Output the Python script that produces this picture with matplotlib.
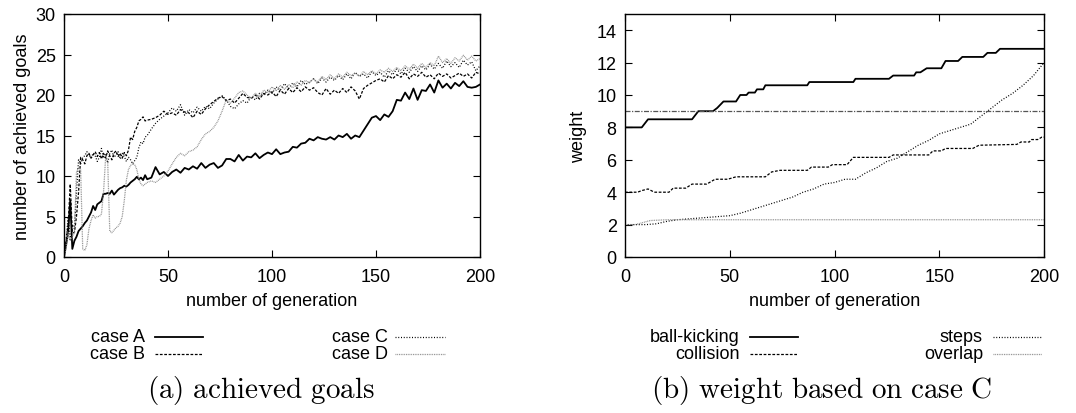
import numpy as np
import matplotlib.pyplot as plt
from matplotlib.lines import Line2D

plt.rcParams['font.family'] = ['Liberation Sans', 'DejaVu Sans']
plt.rcParams['mathtext.fontset'] = 'cm'

# (a) achieved goals -- generations 0..40 every 1, then every 2
gen = np.r_[0:41, 42:201:2]

case_a = [0, 1.5, 3, 7, 1, 2, 2.5, 3.2, 3.5, 3.8, 4.2, 4.5, 5, 5.5, 6.3, 5.8, 6.5, 6.7, 6.9, 7.8,
          7.8, 7.9, 7.8, 8.2, 7.7, 8, 8.3, 8.5, 8.6, 8.8, 8.7, 8.9, 9.2, 9.4, 9.6, 9.9, 9.6, 9.8, 9.5, 10.1,
          9.6,
          9.8, 11.1, 10.2, 10.5, 10.0, 10.5, 10.8, 10.4, 11.0, 10.8, 11.2, 10.9, 11.6, 11.0, 11.4, 11.6,
          11.0, 11.3, 12.1, 12.1, 11.8, 12.6, 11.9, 12.4, 12.3, 12.8, 12.2, 12.6, 12.9, 12.7, 13.3, 12.7,
          12.9, 13.0, 13.6, 13.5, 14.0, 14.1, 14.6, 14.4, 14.8, 14.6, 14.5, 14.8, 14.5, 15.0, 14.8, 15.2,
          14.6, 15.0, 14.8, 15.6, 16.4, 17.2, 17.4, 16.9, 17.6, 17.3, 18.0, 19.4, 19.3, 20.3, 19.5, 20.8,
          19.4, 20.6, 20.5, 21.3, 20.3, 21.8, 20.9, 21.4, 20.8, 21.5, 21.1, 21.7, 21.0, 20.9, 21.0, 21.3]

case_b = [0, 2, 4, 9, 3, 3, 5, 8, 12.3, 12, 11.5, 12.5, 12.8, 12.2, 12.6, 13, 12.4, 12.9, 12.1, 12.8,
          12.2, 13.1, 12.5, 12.0, 12.8, 13.1, 12.4, 12.8, 12.2, 12.9, 12.5, 13.2, 14.8, 14.5, 15.5, 16.0,
          16.8, 17.0, 17.3, 16.8, 16.9,
          17.0, 17.2, 17.5, 18.0, 17.6, 17.8, 17.5, 18.2, 17.9, 17.8, 17.2, 18.0, 17.6, 18.3, 18.8, 19.2,
          19.6, 19.8, 19.3, 19.5, 19.0, 19.6, 20.2, 19.7, 19.6, 20.0, 19.5, 20.2, 20.0, 20.4, 19.8, 20.6,
          20.1, 20.8, 20.3, 20.9, 20.4, 21.0, 20.6, 20.9, 20.3, 20.0, 20.8, 20.1, 20.6, 20.2, 20.8, 20.3,
          21.0, 20.5, 19.5, 20.8, 21.2, 21.5, 21.8, 22.0, 21.6, 22.4, 22.0, 22.5, 22.2, 22.8, 22.0, 22.6,
          22.3, 22.8, 22.2, 22.5, 22.0, 22.7, 22.3, 22.6, 22.1, 22.4, 22.7, 22.3, 22.6, 22.1, 22.8, 22.6]

case_c = [0, 2, 5, 2, 4, 3.5, 8, 12, 11.5, 12.3, 12.5, 13, 12.6, 12.2, 12.8, 12.5, 11.8, 12.3, 13.4,
          12.2, 12.7, 11.6, 12.8, 13.2, 12.3, 12.6, 13.0, 12.1, 12.8, 12.4, 11.8, 12.3, 12.0, 11.5, 11.9,
          12.3, 13.5, 14.2, 14.0, 14.8, 15.0,
          15.8, 16.5, 17.0, 17.4, 17.8, 18.4, 18.0, 18.8, 17.5, 18.2, 17.8, 18.5, 18.0, 18.6, 18.3, 19.0,
          19.5, 19.9, 19.4, 18.6, 18.3, 18.9, 19.3, 19.0, 19.8, 19.4, 20.2, 20.0, 20.6, 20.2, 21.0, 20.6,
          21.4, 20.8, 21.5, 21.0, 21.8, 21.3, 21.6, 22.0, 21.4, 22.1, 21.6, 22.2, 21.8, 22.4, 21.9, 22.6,
          22.0, 22.8, 22.3, 22.6, 22.1, 22.9, 22.4, 22.8, 22.2, 23.0, 22.5, 23.2, 22.6, 23.3, 22.8, 23.5,
          22.9, 23.6, 23.1, 23.8, 23.2, 23.9, 23.3, 24.2, 23.5, 24.0, 23.4, 24.3, 23.7, 24.1, 23.0, 23.6]

case_d = [0, 1, 3, 2, 2.5, 3, 10.5, 11, 10.8, 1.0, 0.8, 1.5, 3.5, 4.5, 5.2, 4.8, 5.0, 5.0, 5.3, 8,
          12.2, 11.8, 3.2, 3.0, 3.3, 3.6, 3.8, 4.2, 5.0, 7.0, 9.5, 10.8, 11.3, 11.5, 11.4, 10.8, 9.6, 9.0,
          8.8, 9.0, 9.2,
          9.4, 9.2, 9.6, 10.0, 10.6, 11.5, 12.3, 12.8, 12.5, 13.0, 13.2, 13.6, 14.5, 15.2, 15.5, 16.0,
          16.8, 18.0, 19.4, 19.0, 19.6, 20.3, 20.5, 20.0, 19.6, 20.2, 19.8, 20.6, 20.3, 21.0, 20.5, 21.2,
          20.7, 21.3, 20.9, 21.6, 21.2, 21.8, 21.5, 22.0, 21.6, 22.3, 21.9, 22.5, 22.0, 22.6, 22.2, 22.8,
          22.4, 22.7, 22.3, 22.9, 22.5, 23.0, 22.6, 23.1, 22.8, 23.3, 22.9, 23.4, 23.0, 23.6, 23.2, 23.8,
          23.3, 23.9, 23.4, 24.0, 23.6, 24.8, 24.0, 24.5, 23.9, 24.6, 24.2, 24.9, 24.3, 24.8, 24.2, 24.5]

# (b) weight based on case C -- breakpoints of each curve
bk_gen = [0, 8, 11, 32, 35, 42, 44, 47, 53, 55, 58, 59, 62, 63, 66, 67, 87, 88, 109, 110, 126, 128,
          138, 139, 141, 144, 151, 153, 159, 161, 171, 173, 177, 179, 200]
bk_val = [8.0, 8.0, 8.5, 8.5, 9.0, 9.0, 9.2, 9.6, 9.6, 10.0, 10.0, 10.15, 10.15, 10.35, 10.35, 10.6,
          10.6, 10.8, 10.8, 11.0, 11.0, 11.2, 11.2, 11.4, 11.4, 11.65, 11.65, 12.1, 12.1, 12.35, 12.35,
          12.6, 12.6, 12.85, 12.85]

col_gen = [0, 6, 8, 11, 14, 21, 23, 29, 32, 39, 43, 49, 53, 67, 70, 74, 87, 89, 97, 99, 106, 109, 126,
           128, 145, 147, 151, 153, 166, 169, 187, 189, 193, 194, 197, 199, 200]
col_val = [4.0, 4.0, 4.1, 4.2, 4.0, 4.0, 4.25, 4.25, 4.5, 4.5, 4.8, 4.8, 4.95, 4.95, 5.25, 5.35, 5.35,
           5.55, 5.55, 5.7, 5.7, 6.15, 6.15, 6.3, 6.3, 6.55, 6.55, 6.7, 6.7, 6.9, 6.95, 7.1, 7.1, 7.25,
           7.25, 7.4, 7.4]

st_gen = [0, 10, 15, 20, 25, 30, 35, 40, 45, 50, 55, 60, 65, 70, 75, 80, 85, 90, 95, 100, 105, 110,
          115, 120, 125, 130, 135, 140, 145, 150, 155, 160, 165, 170, 175, 180, 185, 190, 195, 200]
st_val = [2.0, 2.0, 2.05, 2.2, 2.3, 2.35, 2.4, 2.45, 2.5, 2.55, 2.7, 2.9, 3.1, 3.3, 3.5, 3.7, 4.0, 4.2,
          4.5, 4.6, 4.8, 4.8, 5.2, 5.5, 5.9, 6.1, 6.5, 6.9, 7.2, 7.6, 7.8, 8.0, 8.2, 8.7, 9.2, 9.7,
          10.1, 10.6, 11.2, 12.0]

ov_gen = [0, 5, 12, 20, 200]
ov_val = [2.0, 2.0, 2.25, 2.3, 2.3]

ref_gen = [0, 200]
ref_val = [9.0, 9.0]

W, H = 1076, 414
fig = plt.figure(figsize=(W / 100, H / 100), dpi=100)


def fx(px):
    return px / W


def fy(py):
    return 1 - py / H


ax1 = fig.add_axes([fx(64), fy(258), fx(480) - fx(64), fy(15) - fy(258)])
ax2 = fig.add_axes([fx(625), fy(258), fx(1044) - fx(625), fy(15) - fy(258)])

sty_a = dict(color='black', lw=1.3, ls='-')
sty_b = dict(color='black', lw=0.9, ls=(0, (2.2, 1.3)))
sty_c = dict(color='black', lw=0.9, ls=(0, (0.8, 1.4)))
sty_d = dict(color='#8a8a8a', lw=0.9, ls=(0, (0.7, 0.7)))

ax1.plot(gen, case_a, **sty_a)
ax1.plot(gen, case_b, **sty_b)
ax1.plot(gen, case_c, **sty_c)
ax1.plot(gen, case_d, **sty_d)
ax1.set_xlim(0, 200)
ax1.set_ylim(0, 30)
ax1.set_xticks([0, 50, 100, 150, 200])
ax1.set_yticks([0, 5, 10, 15, 20, 25, 30])
ax1.set_xlabel('number of generation', fontsize=13, labelpad=5)
ax1.set_ylabel('number of achieved goals', fontsize=13, labelpad=3)

ax2.plot(bk_gen, bk_val, **sty_a)
ax2.plot(col_gen, col_val, **sty_b)
ax2.plot(st_gen, st_val, **sty_c)
ax2.plot(ov_gen, ov_val, **sty_d)
ax2.plot(ref_gen, ref_val, color='#555555', lw=0.9, ls=(0, (4, 1.2, 1, 1.2)))
ax2.set_xlim(0, 200)
ax2.set_ylim(0, 15)
ax2.set_xticks([0, 50, 100, 150, 200])
ax2.set_yticks([0, 2, 4, 6, 8, 10, 12, 14])
ax2.set_xlabel('number of generation', fontsize=13, labelpad=5)
ax2.set_ylabel('weight', fontsize=13, labelpad=7)

for ax in (ax1, ax2):
    ax.tick_params(direction='in', top=True, right=True, length=5, width=0.8,
                   labelsize=13)
    ax.tick_params(axis='x', pad=8)
    ax.tick_params(axis='y', pad=6)
    for s in ax.spines.values():
        s.set_linewidth(1.0)

# gnuplot style keys: right-aligned text followed by the line sample
keys = [
    ('case A', 145, 155, 203, 338, sty_a), ('case B', 145, 155, 203, 355, sty_b),
    ('case C', 388, 395, 445, 338, sty_c), ('case D', 388, 395, 445, 355, sty_d),
    ('ball-kicking', 740, 750, 798, 338, sty_a), ('collision', 740, 750, 798, 355, sty_b),
    ('steps', 983, 993, 1042, 338, sty_c), ('overlap', 983, 993, 1042, 355, sty_d),
]
for label, tx, x1, x2, y, sty in keys:
    fig.text(fx(tx), fy(y), label, ha='right', va='center', fontsize=13)
    fig.add_artist(Line2D([fx(x1), fx(x2)], [fy(y), fy(y)], transform=fig.transFigure, **sty))

fig.text(fx(261), fy(391), r'$\mathrm{(a)\ achieved\ goals}$', ha='center', va='center',
         fontsize=21)
fig.text(fx(822), fy(391), r'$\mathrm{(b)\ weight\ based\ on\ case\ C}$', ha='center',
         va='center', fontsize=21)

fig.savefig('out.png', dpi=100)
